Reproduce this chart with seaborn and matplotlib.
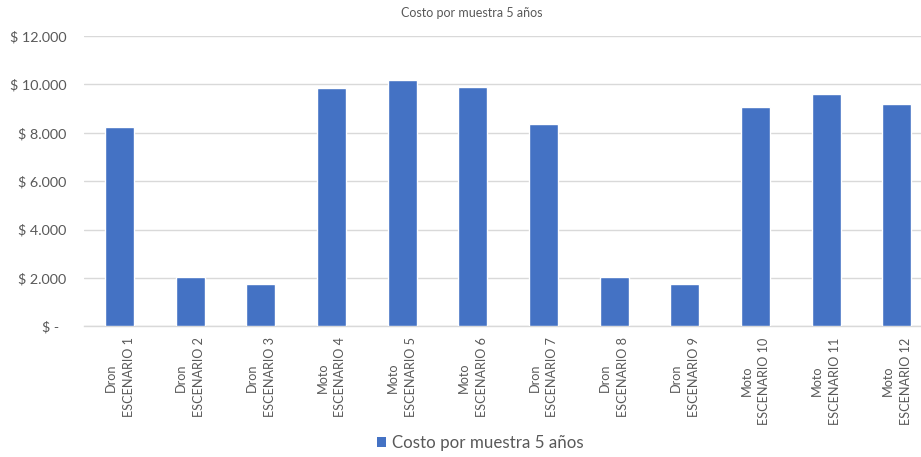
import matplotlib
matplotlib.use("Agg")
import matplotlib.pyplot as plt
from matplotlib.ticker import FuncFormatter
from matplotlib.patches import Patch
import seaborn as sns
import pandas as pd

# Vehicle type and scenario for each bar
vehiculos = ["Dron", "Dron", "Dron", "Moto", "Moto", "Moto",
             "Dron", "Dron", "Dron", "Moto", "Moto", "Moto"]
escenarios = [f"ESCENARIO {i}" for i in range(1, 13)]
# Cost per sample over 5 years
costos = [8230, 2040, 1760, 9860, 10200, 9890,
          8350, 2040, 1760, 9080, 9620, 9180]
serie = "Costo por muestra 5 años"
titulo = "Costo por muestra 5 años"
yticks = [0, 2000, 4000, 6000, 8000, 10000, 12000]

etiquetas = [f"{v}\n{e}" for v, e in zip(vehiculos, escenarios)]
df = pd.DataFrame({"escenario": etiquetas, "costo": costos})

sns.set_theme(style="white")
plt.rcParams["font.family"] = ["Lato", "DejaVu Sans"]

azul = "#4472C4"
gris_txt = "#595959"
gris_linea = "#D9D9D9"

fig = plt.figure(figsize=(9.21, 4.57), dpi=100)
ax = fig.add_axes([84.2 / 921, 1 - 326.3 / 457, (932 - 84.2) / 921, 290.3 / 457])

sns.barplot(data=df, x="escenario", y="costo", color=azul, width=0.41,
            saturation=1, ax=ax, zorder=3)

ax.set_ylim(0, 12000)
ax.set_yticks(yticks)


def fmt(v, _):
    if v == 0:
        return "$ -  "
    return "$ " + f"{int(v):,}".replace(",", ".")


ax.yaxis.set_major_formatter(FuncFormatter(fmt))
ax.grid(axis="y", color=gris_linea, linewidth=1, zorder=0)
ax.set_xlabel("")
ax.set_ylabel("")
for s in ["top", "right", "left"]:
    ax.spines[s].set_visible(False)
ax.spines["bottom"].set_color(gris_linea)
ax.spines["bottom"].set_linewidth(1)
ax.tick_params(axis="both", length=0, colors=gris_txt)
ax.tick_params(axis="y", labelsize=10.4, pad=13)
ax.tick_params(axis="x", pad=8)
ax.set_xticks(range(len(etiquetas)))
ax.set_xticklabels(etiquetas, rotation=90, fontsize=9.1,
                   linespacing=1.6, multialignment="center",
                   va="top", ha="center", color=gris_txt)

fig.text(472 / 921, 1 - 13 / 457, titulo, ha="center", va="center",
         fontsize=9, color=gris_txt)

fig.legend(handles=[Patch(facecolor=azul, edgecolor="none", label=serie)],
           loc="center", bbox_to_anchor=(480 / 921, 1 - 443 / 457),
           frameon=False, fontsize=12.2, handlelength=0.55, handleheight=0.55,
           handletextpad=0.35, labelcolor=gris_txt)

fig.savefig("out.png", dpi=100)
